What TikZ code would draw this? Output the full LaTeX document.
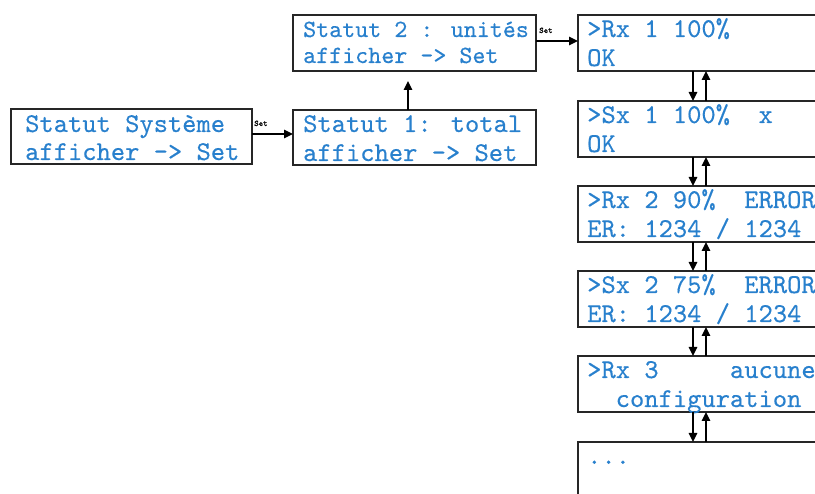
\documentclass[tikz,border=0pt]{standalone}
\usepackage{fontspec}
\usetikzlibrary{arrows.meta}
\newfontfamily\lcdfont{lmmono10-regular.otf}[FakeBold=0.35]
\newfontfamily\labfont{lmmono10-regular.otf}[FakeBold=1.5]
\definecolor{lcd}{RGB}{40,128,205}
\begin{document}
\begin{tikzpicture}[x=1pt,y=-1pt,
  box/.style={draw=black!85, line width=1.9pt, inner sep=0pt, outer sep=0pt, anchor=north west},
  txt/.style={text=lcd, inner sep=0pt, anchor=base west, font=\fontsize{27.2}{28}\selectfont\lcdfont},
  txts/.style={txt, font=\fontsize{24.8}{26}\selectfont\lcdfont},
  arr/.style={line width=1.5pt, -{Triangle[length=9pt,width=8.5pt]}},
  lab/.style={font=\fontsize{8.5}{9}\selectfont\labfont, inner sep=0pt, anchor=base west}]
\useasboundingbox (0,0) rectangle (815,494);
\clip (0,0) rectangle (815,494);
% left boxes
\node[box, minimum width=241pt, minimum height=55pt] (A) at (11,109) {};
\node[txt] (A1) at (25,132) {Statut Système};
\node[txt] (A2) at (25,160) {afficher -> Set};
\node[box, minimum width=243pt, minimum height=55pt] (B) at (293,110) {};
\node[txt] (B1) at (303,132) {Statut 1: total};
\node[txt] (B2) at (303,161) {afficher -> Set};
\node[box, minimum width=243pt, minimum height=56pt] (C) at (293,15) {};
\node[txts] (C1) at (303,37) {Statut 2 : unités};
\node[txts] (C2) at (303,63) {afficher -> Set};
% right column
\node[box, minimum width=260pt, minimum height=56pt] (R1) at (578,15) {};
\node[txt] (R1a) at (587,37) {>Rx 1 100\%};
\node[txt] (R1b) at (587,66) {OK};
\node[box, minimum width=260pt, minimum height=56pt] (R2) at (578,101) {};
\node[txt] (R2a) at (587,123) {>Sx 1 100\%\hphantom{xx}x};
\node[txt] (R2b) at (587,152) {OK};
\node[box, minimum width=260pt, minimum height=56pt] (R3) at (578,186) {};
\node[txt] (R3a) at (587,208) {>Rx 2 90\%\hphantom{xx}ERROR};
\node[txt] (R3b) at (587,237) {ER: 1234 / 1234};
\node[box, minimum width=260pt, minimum height=56pt] (R4) at (578,271) {};
\node[txt] (R4a) at (587,293) {>Sx 2 75\%\hphantom{xx}ERROR};
\node[txt] (R4b) at (587,322) {ER: 1234 / 1234};
\node[box, minimum width=260pt, minimum height=56pt] (R5) at (578,356) {};
\node[txt] (R5a) at (587,378) {>Rx 3\hphantom{xxxxx}aucune};
\node[txt] (R5b) at (587,407) {\hphantom{xx}configuration};
\node[box, minimum width=260pt, minimum height=80pt] (R6) at (578,442) {};
\node[txt] (R6a) at (587,464) {...};
% connectors
\coordinate (ay) at (0,134);
\draw[arr] (A.east |- ay) -- (B.west |- ay);
\node[lab] (L1) at (254,126) {Set};
\coordinate (bx) at (408,0);
\draw[arr, shorten >=10pt] (B.north -| bx) -- (C.south -| bx);
\coordinate (cy) at (0,41);
\draw[arr] (C.east |- cy) -- (R1.west |- cy);
\node[lab] (L2) at (539,33) {Set};
\coordinate (dx) at (693,0);
\coordinate (ux) at (706,0);
\foreach \p/\q in {R1/R2,R2/R3,R3/R4,R4/R5,R5/R6}{
  \draw[arr] (\p.south -| dx) -- (\q.north -| dx);
  \draw[arr] (\q.north -| ux) -- (\p.south -| ux);
}
\end{tikzpicture}
\end{document}
